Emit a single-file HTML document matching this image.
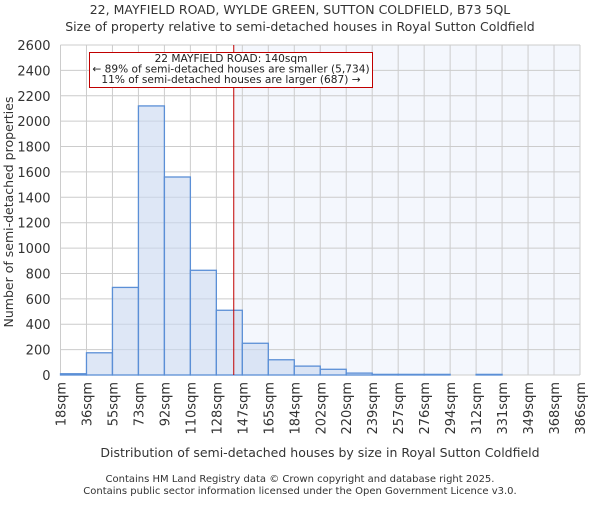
<!DOCTYPE html>
<html><head><meta charset="utf-8"><style>
body{margin:0;background:#fff}
svg{font-family:"DejaVu Sans","Liberation Sans",sans-serif}
</style></head><body>
<svg width="600" height="500" viewBox="0 0 600 500">
<text x="300" y="14" font-size="12.5" text-anchor="middle" fill="#333">22, MAYFIELD ROAD, WYLDE GREEN, SUTTON COLDFIELD, B73 5QL</text>
<text x="300" y="31" font-size="12.5" text-anchor="middle" fill="#333">Size of property relative to semi-detached houses in Royal Sutton Coldfield</text>
<g id="plot"></g>
<text x="320" y="457" font-size="12.5" text-anchor="middle" fill="#333">Distribution of semi-detached houses by size in Royal Sutton Coldfield</text>
<text transform="translate(13,212) rotate(-90)" font-size="12.5" text-anchor="middle" fill="#333">Number of semi-detached properties</text>
<text x="300" y="482" font-size="10" text-anchor="middle" fill="#333">Contains HM Land Registry data © Crown copyright and database right 2025.</text>
<text x="300" y="494" font-size="10" text-anchor="middle" fill="#333">Contains public sector information licensed under the Open Government Licence v3.0.</text>
</svg>
<script>
const binLabels=["18sqm","36sqm","55sqm","73sqm","92sqm","110sqm","128sqm","147sqm","165sqm","184sqm","202sqm","220sqm","239sqm","257sqm","276sqm","294sqm","312sqm","331sqm","349sqm","368sqm","386sqm"];
const counts=[10,175,690,2120,1560,825,510,250,120,70,45,15,5,5,5,0,5,0,0,0];
const yTicks=[0,200,400,600,800,1000,1200,1400,1600,1800,2000,2200,2400,2600];
const markerBin=6.67;
const L=60.5,R=580,T=45,B=375,yMax=2600;
const nb=counts.length;
const xs=i=>L+(R-L)*i/nb;
const ys=v=>B-(B-T)*v/yMax;
const ns="http://www.w3.org/2000/svg";
const g=document.getElementById('plot');
function mk(t,a){const e=document.createElementNS(ns,t);for(const k in a)e.setAttribute(k,a[k]);g.appendChild(e);return e;}
const mx=xs(markerBin);
let e=mk('rect',{x:mx,y:T,width:R-mx,height:B-T,fill:'#f4f7fd'});


yTicks.forEach(v=>{
 let l=mk('line',{x1:L,x2:R,y1:ys(v),y2:ys(v),stroke:'#cccccc','stroke-width':1});
 
 
 let t=mk('text',{x:L-10,y:ys(v)+5,'font-size':13,'text-anchor':'end',fill:'#333'});
 t.textContent=v;
 
 
});
binLabels.forEach((s,i)=>{
 let l=mk('line',{x1:xs(i),x2:xs(i),y1:T,y2:B,stroke:'#cccccc','stroke-width':1});
 
 
 let t=mk('text',{transform:`translate(${xs(i)+5},382) rotate(-90)`,'font-size':13,'text-anchor':'end',fill:'#333'});
 t.textContent=s;
 
 
});
counts.forEach((v,i)=>{
 if(v<=0)return;
 let r=mk('rect',{x:xs(i),y:ys(v),width:xs(i+1)-xs(i),height:B-ys(v),fill:'rgba(200,215,240,0.6)',stroke:'#5b8fd6','stroke-width':1.3});
 
 
});
e=mk('line',{x1:mx,x2:mx,y1:T,y2:B,stroke:'#c00000','stroke-width':1});


e=mk('rect',{x:89.5,y:52.5,width:283,height:35,fill:'#fff',stroke:'#c00000','stroke-width':1});


[["22 MAYFIELD ROAD: 140sqm",62],["← 89% of semi-detached houses are smaller (5,734)",72.5],["11% of semi-detached houses are larger (687) →",83]].forEach(([s,y])=>{
 let t=mk('text',{x:231,y:y,'font-size':10.6,'text-anchor':'middle',fill:'#222'});
 t.textContent=s;
 
 
});
</script>
</body></html>
